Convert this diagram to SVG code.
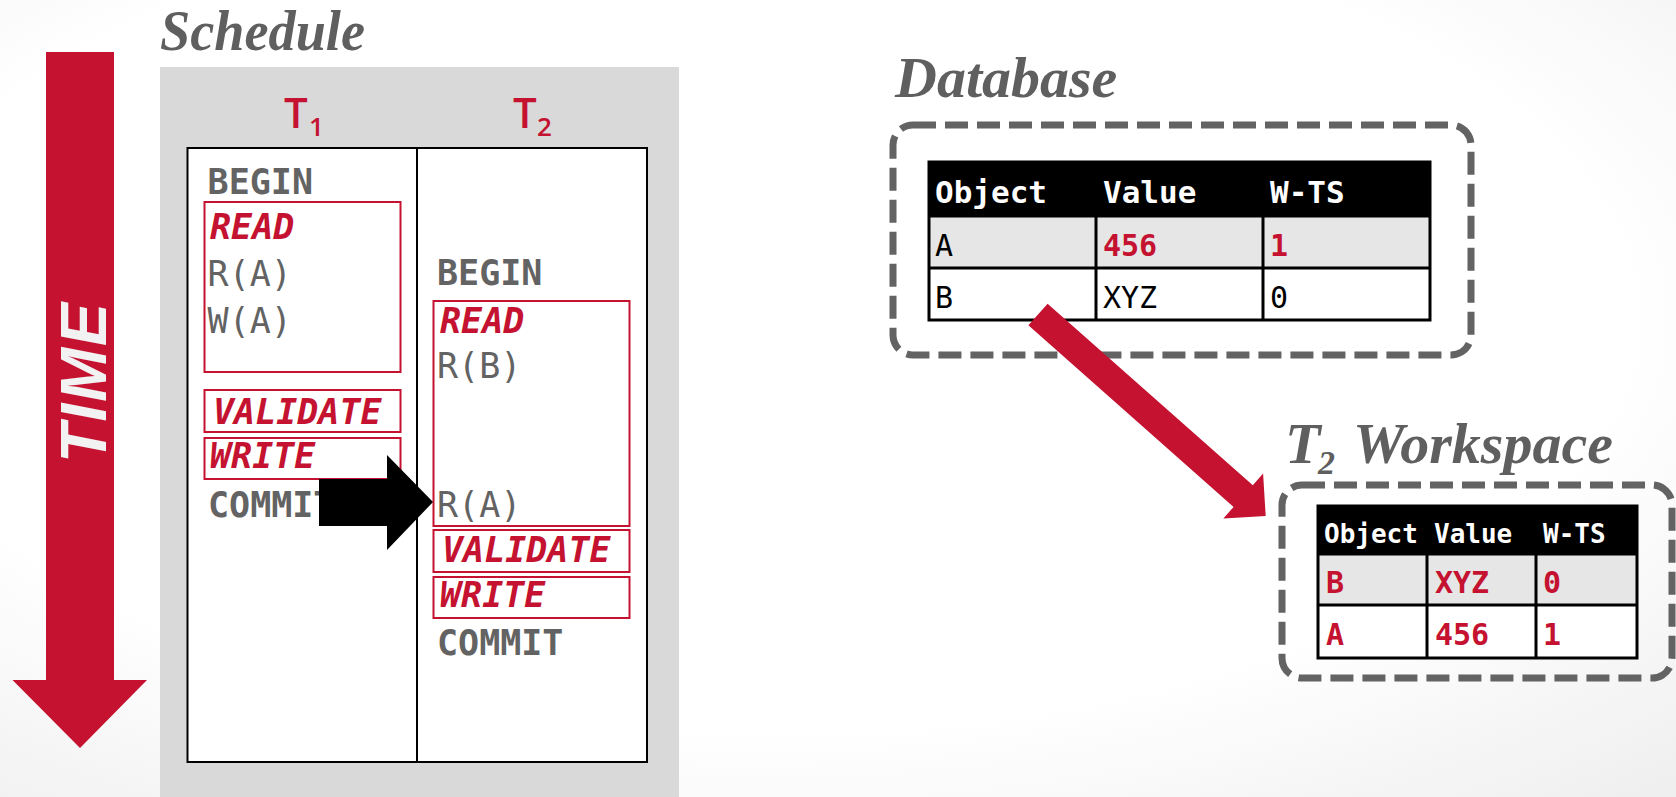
<svg xmlns="http://www.w3.org/2000/svg" width="1676" height="797" viewBox="0 0 1676 797">
<defs>
<radialGradient id="bg" cx="0.45" cy="0.4" r="0.8">
<stop offset="0.65" stop-color="#ffffff"/>
<stop offset="1" stop-color="#efefef"/>
</radialGradient>
</defs>
<style>
.title{font-family:"Liberation Serif",serif;font-weight:bold;font-style:italic;font-size:58px;fill:#5f5f5f}
.tl{font-family:"Open Sans","Liberation Sans",sans-serif;font-weight:600;fill:#c41230}
.op{font-family:"DejaVu Sans Mono","Liberation Mono",monospace;font-size:35px;fill:#636363}
.b{font-weight:bold}
.ph{font-family:"DejaVu Sans Mono","Liberation Mono",monospace;font-size:35px;font-weight:bold;font-style:italic;fill:#c41230}
.rbox{fill:none;stroke:#c41230;stroke-width:2}
.dash{fill:none;stroke:#636363;stroke-width:7;stroke-dasharray:23 9}
.th{font-family:"DejaVu Sans Mono","Liberation Mono",monospace;font-weight:bold;fill:#ffffff}
.td{font-family:"DejaVu Sans Mono","Liberation Mono",monospace;fill:#000000}
.tr{font-family:"DejaVu Sans Mono","Liberation Mono",monospace;font-weight:bold;fill:#c41230}
.grid{fill:none;stroke:#000;stroke-width:3}
</style>
<rect width="1676" height="797" fill="url(#bg)"/>

<g id="schedule">
<text class="title" x="160" y="50" textLength="205" lengthAdjust="spacingAndGlyphs">Schedule</text>
<rect x="160" y="67" width="519" height="730" fill="#d9d9d9"/>
<text class="tl" x="284" y="128" font-size="42">T<tspan x="309" y="136" font-size="26">1</tspan></text>
<text class="tl" x="513" y="128" font-size="42">T<tspan x="537" y="136" font-size="26">2</tspan></text>
<rect x="187.5" y="148" width="459.5" height="614" fill="#fff" stroke="#000" stroke-width="2"/>
<line x1="417" y1="148" x2="417" y2="762" stroke="#000" stroke-width="2"/>
</g>

<g id="t1">
<text class="op b" x="207.6" y="194">BEGIN</text>
<rect class="rbox" x="204.5" y="202" width="196" height="170"/>
<text class="ph" x="210" y="239">READ</text>
<text class="op" x="207.6" y="286">R(A)</text>
<text class="op" x="207.6" y="333">W(A)</text>
<rect class="rbox" x="204.5" y="390" width="196" height="42"/>
<text class="ph" x="213" y="424">VALIDATE</text>
<rect class="rbox" x="204.5" y="438" width="196" height="41"/>
<text class="ph" x="210" y="468">WRITE</text>
<text class="op b" x="208" y="517">COMMIT</text>
</g>

<g id="t2">
<text class="op b" x="437" y="285">BEGIN</text>
<rect class="rbox" x="433.5" y="301" width="196" height="225"/>
<text class="ph" x="440" y="333">READ</text>
<text class="op" x="437" y="378">R(B)</text>
<text class="op" x="437" y="517">R(A)</text>
<rect class="rbox" x="433.5" y="530" width="196" height="42"/>
<text class="ph" x="442" y="562">VALIDATE</text>
<rect class="rbox" x="433.5" y="577" width="196" height="41"/>
<text class="ph" x="440" y="607">WRITE</text>
<text class="op b" x="437" y="655">COMMIT</text>
</g>

<g id="time">
<polygon points="46,52 114,52 114,680 147,680 80,748 12.5,680 46,680" fill="#c41230"/>
<text transform="translate(106,463) rotate(-90)" font-family="Liberation Sans, sans-serif" font-weight="bold" font-style="italic" font-size="65" fill="#f2f2f2" textLength="160" lengthAdjust="spacing">TIME</text>
</g>

<g id="database">
<text class="title" x="895" y="97">Database</text>
<rect class="dash" x="893" y="125" width="578" height="230" rx="20"/>
<rect x="929" y="162" width="501" height="54" fill="#000"/>
<rect x="929" y="216" width="501" height="52" fill="#e6e6e6"/>
<rect x="929" y="268" width="501" height="52" fill="#fff"/>
<rect class="grid" x="929" y="162" width="501" height="158"/>
<line class="grid" x1="929" y1="216" x2="1430" y2="216"/>
<line class="grid" x1="929" y1="268" x2="1430" y2="268"/>
<line class="grid" x1="1096" y1="216" x2="1096" y2="320"/>
<line class="grid" x1="1263" y1="216" x2="1263" y2="320"/>
<text class="th" font-size="31" x="935" y="203">Object</text>
<text class="th" font-size="31" x="1103" y="203">Value</text>
<text class="th" font-size="31" x="1270" y="203">W-TS</text>
<text class="td" font-size="30" x="935" y="256">A</text>
<text class="tr" font-size="30" x="1103" y="256">456</text>
<text class="tr" font-size="30" x="1270" y="256">1</text>
<text class="td" font-size="30" x="935" y="308">B</text>
<text class="td" font-size="30" x="1103" y="308">XYZ</text>
<text class="td" font-size="30" x="1270" y="308">0</text>
</g>

<g id="workspace">
<text class="title" x="1285" y="463">T<tspan x="1318" y="474" font-size="34">2</tspan><tspan x="1353" y="463">Workspace</tspan></text>
<rect class="dash" x="1282" y="485" width="390" height="193" rx="20"/>
<rect x="1318" y="506" width="319" height="48" fill="#000"/>
<rect x="1318" y="554" width="319" height="51" fill="#e6e6e6"/>
<rect x="1318" y="605" width="319" height="53" fill="#fff"/>
<rect class="grid" x="1318" y="506" width="319" height="152"/>
<line class="grid" x1="1318" y1="554" x2="1637" y2="554"/>
<line class="grid" x1="1318" y1="605" x2="1637" y2="605"/>
<line class="grid" x1="1427" y1="554" x2="1427" y2="658"/>
<line class="grid" x1="1536" y1="554" x2="1536" y2="658"/>
<text class="th" font-size="26" x="1324" y="543">Object</text>
<text class="th" font-size="26" x="1434" y="543">Value</text>
<text class="th" font-size="26" x="1543" y="543">W-TS</text>
<text class="tr" font-size="30" x="1326" y="593">B</text>
<text class="tr" font-size="30" x="1435" y="593">XYZ</text>
<text class="tr" font-size="30" x="1543" y="593">0</text>
<text class="tr" font-size="30" x="1326" y="645">A</text>
<text class="tr" font-size="30" x="1435" y="645">456</text>
<text class="tr" font-size="30" x="1543" y="645">1</text>
</g>

<g id="connectors">
<polygon points="319,479 387,479 387,455 433,502 387,550 387,526 319,526" fill="#000"/>
<polygon transform="translate(1038,314.5) rotate(41.5)" points="0,-14.5 274,-14.5 274,-30 304,0 274,30 274,14.5 0,14.5" fill="#c41230"/>
</g>
</svg>
